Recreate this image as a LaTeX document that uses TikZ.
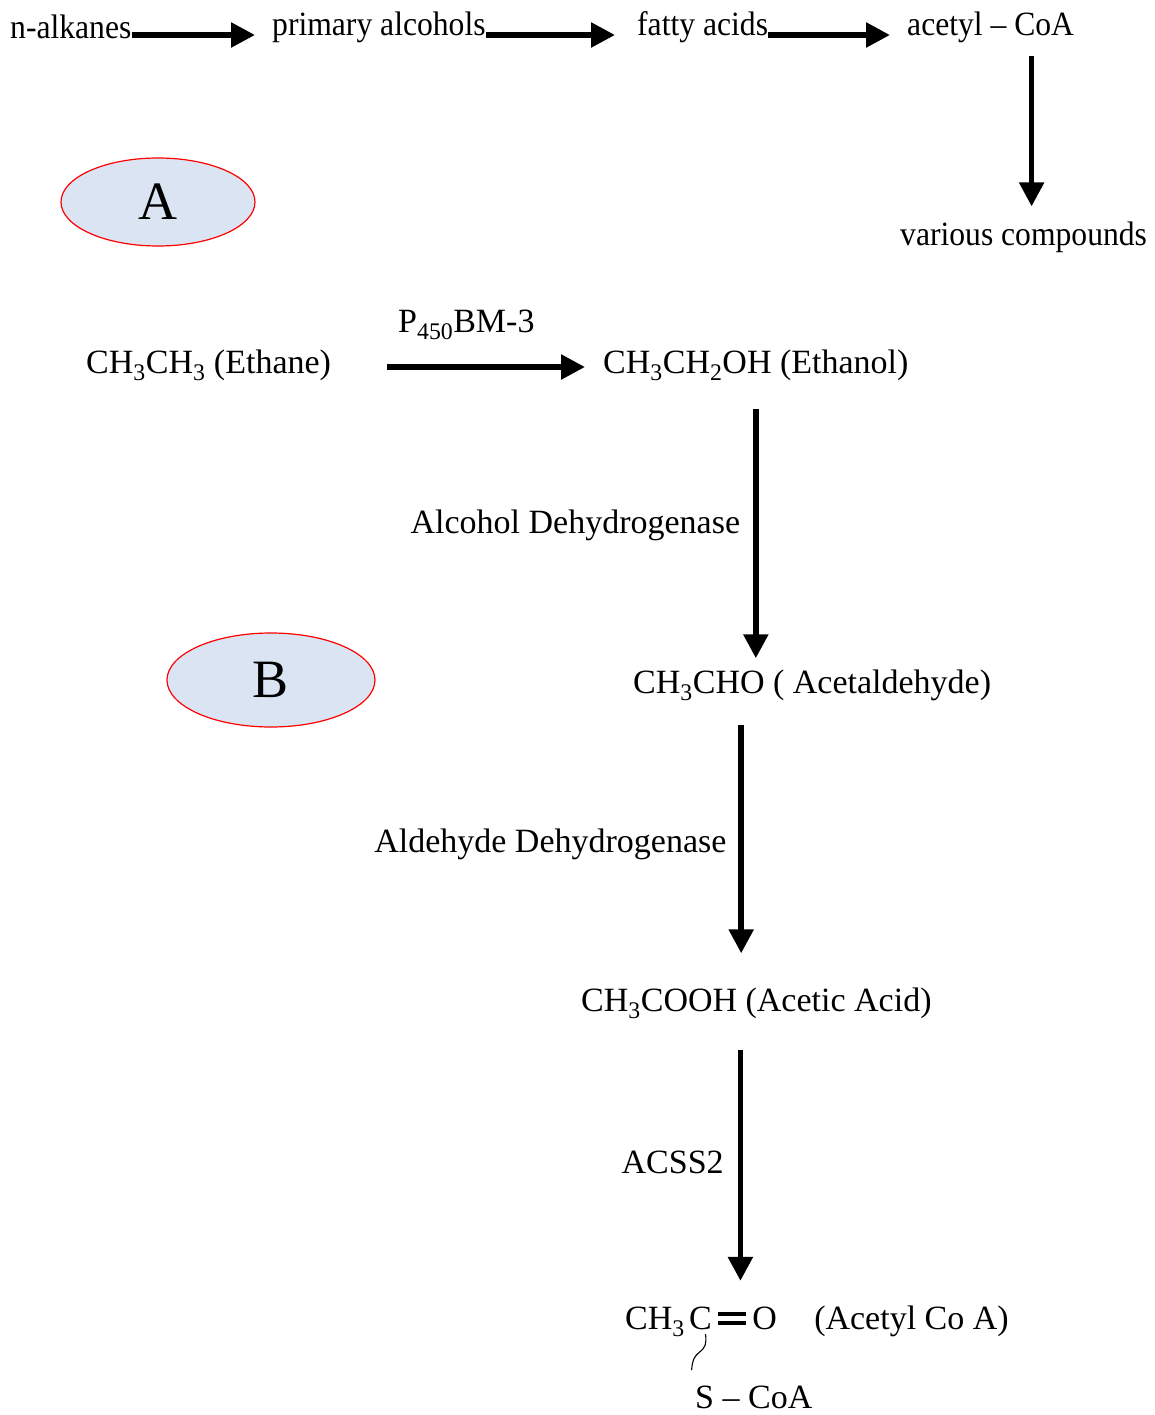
\documentclass[tikz,border=0pt]{standalone}
\usepackage{fontspec}
\setmainfont{Liberation Serif}
\newfontfamily\narrowfont[FakeStretch=0.93]{Liberation Serif}
\usetikzlibrary{arrows.meta,shapes.geometric,positioning}
\definecolor{tagblue}{RGB}{219,228,242}
\tikzset{
  chem/.style  = {font=\fontsize{34}{40}\selectfont, inner sep=0pt, anchor=west},
  topt/.style  = {font=\narrowfont\fontsize{34}{40}\selectfont, inner sep=0pt, anchor=west},
  enz/.style   = {font=\fontsize{34}{40}\selectfont, inner sep=0pt},
  flow/.style  = {line width=5.5pt, -{Triangle[length=24pt,width=24pt]}},
  tag/.style   = {ellipse, draw=red, line width=1.2pt, fill=tagblue,
                  minimum width=194pt, minimum height=88pt,
                  font=\fontsize{54}{60}\selectfont},
  bond/.style  = {line width=4pt},
}

\begin{document}
\begin{tikzpicture}[x=1pt, y=-1pt]
\useasboundingbox (0,0) rectangle (1155,1415);

% pathway A
\node[topt] (alk) at (10,27)  {n-alkanes};
\node[topt] (pri) at (272,27) {primary alcohols};
\node[topt] (fat) at (637,27) {fatty acids};
\node[topt] (acy) at (907,27) {acetyl – CoA};
\node[topt] (var) at (900,237) {various compounds};
\draw[flow, shorten >=17pt] ([yshift=-8pt]alk.east) -- ([yshift=-8pt]pri.west);
\draw[flow, shorten >=22pt] ([yshift=-8pt]pri.east) -- ([yshift=-8pt]fat.west);
\draw[flow, shorten >=17pt] ([yshift=-8pt]fat.east) -- ([yshift=-8pt]acy.west);
\coordinate (c1) at ([xshift=41pt]acy.south);
\draw[flow, shorten <=13pt, shorten >=15pt] (c1) -- (c1 |- var.north);

\node[tag] (tagA) at (158,202) {A};
\node[tag, minimum width=208pt, minimum height=94pt] (tagB) at (271,680) {B};

% pathway B
\node[chem] (eta) at (86,365)  {CH\textsubscript{3}CH\textsubscript{3} (Ethane)};
\node[chem] (eth) at (603,365) {CH\textsubscript{3}CH\textsubscript{2}OH (Ethanol)};
\node[chem] (p450) at (398,325) {P\textsubscript{450}BM-3};
\draw[flow, shorten <=56pt, shorten >=18pt] ([yshift=-2pt]eta.east) -- ([yshift=-2pt]eth.west);

\node[chem] (ald) at (633,685)  {CH\textsubscript{3}CHO ( Acetaldehyde)};
\draw[flow, shorten <=28pt, shorten >=11pt] (eth.south) -- (eth.south |- ald.north)
  node[enz, midway, left=13pt] (adh) {Alcohol Dehydrogenase};

\node[chem] (acid) at (581,1003) {CH\textsubscript{3}COOH (Acetic Acid)};
\coordinate (c2) at ([xshift=-71pt]ald.south);
\draw[flow, shorten <=24pt, shorten >=34pt] (c2) -- (c2 |- acid.north)
  node[enz, midway, left=12pt] (aldh) {Aldehyde Dehydrogenase};

% acetyl CoA
\node[chem] (ch3) at (625,1322) {CH\textsubscript{3}};
\node[chem, anchor=base west] (cat) at ([xshift=4pt]ch3.base east) {C};
\node[chem, anchor=base west] (oxy) at ([xshift=40pt]cat.base east) {O};
\node[chem, anchor=base west] (acoa) at ([xshift=37pt]oxy.base east) {(Acetyl Co A)};
\node[chem] (sco) at (695,1397) {S – CoA};
\coordinate (c3) at ([xshift=-16pt]acid.south);
\draw[flow, shorten <=31pt, shorten >=26pt] (c3) -- (c3 |- ch3.north)
  node[enz, midway, left=14pt] (acss) {ACSS2};

\draw[bond] ([xshift=6pt,yshift=4.5pt]cat.east) -- ([xshift=-6pt,yshift=4.5pt]oxy.west);
\draw[bond] ([xshift=6pt,yshift=-4.5pt]cat.east) -- ([xshift=-6pt,yshift=-4.5pt]oxy.west);
\draw[line width=1.1pt] ([xshift=5pt,yshift=-4pt]cat.south)
  .. controls +(1,10) and +(6,-5) .. +(-6,18)
  .. controls +(-6,5) and +(1,-10) .. +(-14,36);
\end{tikzpicture}
\end{document}
